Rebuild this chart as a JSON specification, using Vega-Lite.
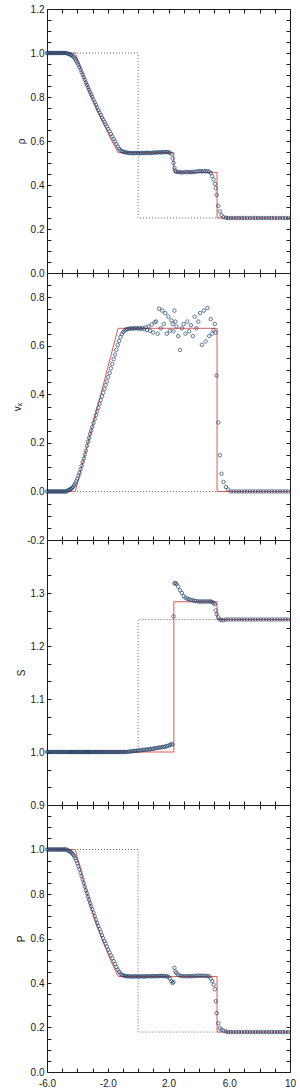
{
  "$schema": "https://vega.github.io/schema/vega-lite/v6.json",
  "background": "white",
  "padding": {"left": 12, "top": 4, "right": 5, "bottom": 5},
  "bounds": "flush",
  "spacing": 0,
  "config": {
    "view": {"stroke": null},
    "axis": {"domainColor": "#1a1a1a", "domainWidth": 1, "tickColor": "#1a1a1a", "tickWidth": 1, "tickSize": -4, "labelPadding": 7, "labelFont": "Liberation Sans", "labelFontSize": 10, "labelColor": "#1a1a1a", "titleFont": "Liberation Sans", "titleFontSize": 10, "titleFontWeight": "normal", "titleColor": "#1a1a1a", "titlePadding": 4, "grid": false, "labelFlush": false, "labelOverlap": false, "labelBound": false}
  },
  "datasets": {
    "init": [
      {"x": -6, "o": 1, "rho": 1, "vx": 0, "S": 1, "P": 1},
      {"x": 0, "o": 2, "rho": 1, "vx": 0, "S": 1, "P": 1},
      {"x": 0, "o": 3, "rho": 0.25, "vx": 0, "S": 1.25, "P": 0.1795},
      {"x": 10, "o": 4, "rho": 0.25, "vx": 0, "S": 1.25, "P": 0.1795}
    ],
    "exact": [
      {"x": -6, "o": 1, "rho": 1, "vx": 0, "S": 1, "P": 1},
      {"x": -4.141, "o": 2, "rho": 1, "vx": 0, "S": 1, "P": 1},
      {"x": -3.6, "o": 3, "rho": 0.8957, "vx": 0.1289, "S": 1, "P": 0.8571},
      {"x": -3.0, "o": 4, "rho": 0.7905, "vx": 0.2717, "S": 1, "P": 0.7196},
      {"x": -2.4, "o": 5, "rho": 0.6954, "vx": 0.4146, "S": 1, "P": 0.6013},
      {"x": -1.8, "o": 6, "rho": 0.6097, "vx": 0.5574, "S": 1, "P": 0.5002},
      {"x": -1.318, "o": 7, "rho": 0.547, "vx": 0.6722, "S": 1, "P": 0.4294},
      {"x": 2.352, "o": 8, "rho": 0.547, "vx": 0.6722, "S": 1, "P": 0.4294},
      {"x": 2.352, "o": 9, "rho": 0.4574, "vx": 0.6722, "S": 1.2835, "P": 0.4294},
      {"x": 5.197, "o": 10, "rho": 0.4574, "vx": 0.6722, "S": 1.2835, "P": 0.4294},
      {"x": 5.197, "o": 11, "rho": 0.25, "vx": 0, "S": 1.25, "P": 0.1795},
      {"x": 10, "o": 12, "rho": 0.25, "vx": 0, "S": 1.25, "P": 0.1795}
    ],
    "cells": [
      {"x": -6.00, "rho": 1, "vx": 0, "S": 1, "P": 1},
      {"x": -5.92, "rho": 1, "vx": 0, "S": 1, "P": 1},
      {"x": -5.84, "rho": 1, "vx": 0, "S": 1, "P": 1},
      {"x": -5.76, "rho": 1, "vx": 0, "S": 1, "P": 1},
      {"x": -5.68, "rho": 1, "vx": 0, "S": 1, "P": 1},
      {"x": -5.60, "rho": 1, "vx": 0, "S": 1, "P": 1},
      {"x": -5.52, "rho": 1, "vx": 0, "S": 1, "P": 1},
      {"x": -5.44, "rho": 1, "vx": 0, "S": 1, "P": 1},
      {"x": -5.36, "rho": 1, "vx": 0, "S": 1, "P": 1},
      {"x": -5.28, "rho": 1, "vx": 0, "S": 1, "P": 1},
      {"x": -5.20, "rho": 1, "vx": 0, "S": 1, "P": 1},
      {"x": -5.12, "rho": 1, "vx": 0, "S": 1, "P": 1},
      {"x": -5.04, "rho": 1, "vx": 0, "S": 1, "P": 1},
      {"x": -4.96, "rho": 1, "vx": 0, "S": 1, "P": 1},
      {"x": -4.88, "rho": 1, "vx": 0, "S": 1, "P": 1},
      {"x": -4.80, "rho": 1, "vx": 0, "S": 1, "P": 1},
      {"x": -4.72, "rho": 1, "vx": 0, "S": 1, "P": 1},
      {"x": -4.64, "rho": 0.997, "vx": 0.004, "S": 1, "P": 0.996},
      {"x": -4.56, "rho": 0.995, "vx": 0.006, "S": 1, "P": 0.994},
      {"x": -4.49, "rho": 0.994, "vx": 0.008, "S": 1, "P": 0.991},
      {"x": -4.42, "rho": 0.991, "vx": 0.011, "S": 1, "P": 0.988},
      {"x": -4.35, "rho": 0.988, "vx": 0.014, "S": 1, "P": 0.983},
      {"x": -4.28, "rho": 0.984, "vx": 0.019, "S": 1, "P": 0.977},
      {"x": -4.21, "rho": 0.979, "vx": 0.026, "S": 1, "P": 0.970},
      {"x": -4.14, "rho": 0.972, "vx": 0.033, "S": 1, "P": 0.961},
      {"x": -4.07, "rho": 0.964, "vx": 0.042, "S": 1, "P": 0.950},
      {"x": -4.00, "rho": 0.956, "vx": 0.053, "S": 1, "P": 0.938},
      {"x": -3.93, "rho": 0.946, "vx": 0.065, "S": 1, "P": 0.925},
      {"x": -3.86, "rho": 0.936, "vx": 0.077, "S": 1, "P": 0.911},
      {"x": -3.79, "rho": 0.925, "vx": 0.091, "S": 1, "P": 0.896},
      {"x": -3.72, "rho": 0.913, "vx": 0.106, "S": 1, "P": 0.881},
      {"x": -3.65, "rho": 0.902, "vx": 0.121, "S": 1, "P": 0.865},
      {"x": -3.58, "rho": 0.890, "vx": 0.136, "S": 1, "P": 0.849},
      {"x": -3.51, "rho": 0.878, "vx": 0.152, "S": 1, "P": 0.833},
      {"x": -3.44, "rho": 0.865, "vx": 0.168, "S": 1, "P": 0.817},
      {"x": -3.37, "rho": 0.855, "vx": 0.188, "S": 1, "P": 0.803},
      {"x": -3.30, "rho": 0.844, "vx": 0.205, "S": 1, "P": 0.788},
      {"x": -3.23, "rho": 0.833, "vx": 0.221, "S": 1, "P": 0.774},
      {"x": -3.16, "rho": 0.822, "vx": 0.237, "S": 1, "P": 0.759},
      {"x": -3.09, "rho": 0.811, "vx": 0.251, "S": 1, "P": 0.745},
      {"x": -3.02, "rho": 0.800, "vx": 0.266, "S": 1, "P": 0.731},
      {"x": -2.94, "rho": 0.788, "vx": 0.282, "S": 1, "P": 0.716},
      {"x": -2.86, "rho": 0.775, "vx": 0.298, "S": 1, "P": 0.700},
      {"x": -2.78, "rho": 0.764, "vx": 0.314, "S": 1, "P": 0.685},
      {"x": -2.70, "rho": 0.752, "vx": 0.330, "S": 1, "P": 0.670},
      {"x": -2.62, "rho": 0.740, "vx": 0.345, "S": 1, "P": 0.656},
      {"x": -2.54, "rho": 0.729, "vx": 0.361, "S": 1, "P": 0.642},
      {"x": -2.46, "rho": 0.718, "vx": 0.376, "S": 1, "P": 0.628},
      {"x": -2.38, "rho": 0.707, "vx": 0.392, "S": 1, "P": 0.615},
      {"x": -2.30, "rho": 0.697, "vx": 0.407, "S": 1, "P": 0.601},
      {"x": -2.22, "rho": 0.687, "vx": 0.422, "S": 1, "P": 0.588},
      {"x": -2.14, "rho": 0.676, "vx": 0.438, "S": 1, "P": 0.577},
      {"x": -2.06, "rho": 0.666, "vx": 0.453, "S": 1, "P": 0.564},
      {"x": -1.97, "rho": 0.655, "vx": 0.471, "S": 1, "P": 0.550},
      {"x": -1.88, "rho": 0.644, "vx": 0.488, "S": 1, "P": 0.537},
      {"x": -1.79, "rho": 0.632, "vx": 0.507, "S": 1, "P": 0.524},
      {"x": -1.70, "rho": 0.621, "vx": 0.525, "S": 1, "P": 0.511},
      {"x": -1.61, "rho": 0.609, "vx": 0.545, "S": 1, "P": 0.498},
      {"x": -1.52, "rho": 0.598, "vx": 0.564, "S": 1, "P": 0.485},
      {"x": -1.43, "rho": 0.586, "vx": 0.584, "S": 1, "P": 0.472},
      {"x": -1.34, "rho": 0.575, "vx": 0.603, "S": 1, "P": 0.460},
      {"x": -1.25, "rho": 0.565, "vx": 0.620, "S": 1, "P": 0.450},
      {"x": -1.16, "rho": 0.558, "vx": 0.636, "S": 1, "P": 0.442},
      {"x": -1.07, "rho": 0.554, "vx": 0.648, "S": 1, "P": 0.437},
      {"x": -0.98, "rho": 0.551, "vx": 0.657, "S": 1, "P": 0.434},
      {"x": -0.89, "rho": 0.549, "vx": 0.663, "S": 1, "P": 0.432},
      {"x": -0.80, "rho": 0.548, "vx": 0.667, "S": 1, "P": 0.431},
      {"x": -0.71, "rho": 0.547, "vx": 0.669, "S": 1.000, "P": 0.430},
      {"x": -0.61, "rho": 0.546, "vx": 0.670, "S": 1.001, "P": 0.430},
      {"x": -0.51, "rho": 0.545, "vx": 0.671, "S": 1.001, "P": 0.430},
      {"x": -0.41, "rho": 0.545, "vx": 0.672, "S": 1.001, "P": 0.429},
      {"x": -0.31, "rho": 0.544, "vx": 0.671, "S": 1.002, "P": 0.429},
      {"x": -0.21, "rho": 0.545, "vx": 0.672, "S": 1.002, "P": 0.430},
      {"x": -0.11, "rho": 0.546, "vx": 0.673, "S": 1.002, "P": 0.430},
      {"x": -0.01, "rho": 0.545, "vx": 0.671, "S": 1.003, "P": 0.429},
      {"x": 0.09, "rho": 0.544, "vx": 0.673, "S": 1.003, "P": 0.429},
      {"x": 0.19, "rho": 0.545, "vx": 0.670, "S": 1.003, "P": 0.430},
      {"x": 0.29, "rho": 0.546, "vx": 0.674, "S": 1.004, "P": 0.430},
      {"x": 0.39, "rho": 0.545, "vx": 0.668, "S": 1.004, "P": 0.429},
      {"x": 0.49, "rho": 0.546, "vx": 0.676, "S": 1.004, "P": 0.430},
      {"x": 0.59, "rho": 0.547, "vx": 0.665, "S": 1.005, "P": 0.430},
      {"x": 0.69, "rho": 0.546, "vx": 0.680, "S": 1.005, "P": 0.431},
      {"x": 0.79, "rho": 0.545, "vx": 0.662, "S": 1.005, "P": 0.430},
      {"x": 0.89, "rho": 0.546, "vx": 0.688, "S": 1.006, "P": 0.430},
      {"x": 0.99, "rho": 0.547, "vx": 0.655, "S": 1.006, "P": 0.431},
      {"x": 1.09, "rho": 0.548, "vx": 0.697, "S": 1.007, "P": 0.431},
      {"x": 1.19, "rho": 0.547, "vx": 0.700, "S": 1.007, "P": 0.430},
      {"x": 1.29, "rho": 0.548, "vx": 0.650, "S": 1.008, "P": 0.431},
      {"x": 1.39, "rho": 0.549, "vx": 0.753, "S": 1.008, "P": 0.431},
      {"x": 1.49, "rho": 0.548, "vx": 0.672, "S": 1.009, "P": 0.432},
      {"x": 1.59, "rho": 0.549, "vx": 0.745, "S": 1.009, "P": 0.431},
      {"x": 1.69, "rho": 0.550, "vx": 0.690, "S": 1.010, "P": 0.432},
      {"x": 1.79, "rho": 0.549, "vx": 0.735, "S": 1.010, "P": 0.431},
      {"x": 1.89, "rho": 0.550, "vx": 0.650, "S": 1.011, "P": 0.430},
      {"x": 1.99, "rho": 0.549, "vx": 0.720, "S": 1.012, "P": 0.428},
      {"x": 2.09, "rho": 0.547, "vx": 0.662, "S": 1.013, "P": 0.420},
      {"x": 2.19, "rho": 0.540, "vx": 0.705, "S": 1.015, "P": 0.408},
      {"x": 2.27, "rho": 0.520, "vx": 0.690, "S": 1.014, "P": 0.400},
      {"x": 2.33, "rho": 0.500, "vx": 0.660, "S": 1.256, "P": 0.405},
      {"x": 2.39, "rho": 0.478, "vx": 0.745, "S": 1.318, "P": 0.468},
      {"x": 2.45, "rho": 0.465, "vx": 0.700, "S": 1.319, "P": 0.452},
      {"x": 2.52, "rho": 0.460, "vx": 0.680, "S": 1.317, "P": 0.445},
      {"x": 2.64, "rho": 0.459, "vx": 0.640, "S": 1.312, "P": 0.437},
      {"x": 2.76, "rho": 0.458, "vx": 0.583, "S": 1.305, "P": 0.433},
      {"x": 2.88, "rho": 0.457, "vx": 0.672, "S": 1.300, "P": 0.431},
      {"x": 3.00, "rho": 0.458, "vx": 0.690, "S": 1.294, "P": 0.430},
      {"x": 3.12, "rho": 0.459, "vx": 0.650, "S": 1.291, "P": 0.431},
      {"x": 3.24, "rho": 0.458, "vx": 0.700, "S": 1.289, "P": 0.430},
      {"x": 3.36, "rho": 0.459, "vx": 0.660, "S": 1.288, "P": 0.431},
      {"x": 3.48, "rho": 0.458, "vx": 0.685, "S": 1.287, "P": 0.430},
      {"x": 3.60, "rho": 0.459, "vx": 0.640, "S": 1.286, "P": 0.431},
      {"x": 3.72, "rho": 0.460, "vx": 0.720, "S": 1.285, "P": 0.432},
      {"x": 3.84, "rho": 0.461, "vx": 0.672, "S": 1.285, "P": 0.431},
      {"x": 3.96, "rho": 0.462, "vx": 0.700, "S": 1.284, "P": 0.433},
      {"x": 4.08, "rho": 0.463, "vx": 0.735, "S": 1.284, "P": 0.432},
      {"x": 4.20, "rho": 0.462, "vx": 0.604, "S": 1.284, "P": 0.433},
      {"x": 4.32, "rho": 0.463, "vx": 0.745, "S": 1.284, "P": 0.432},
      {"x": 4.44, "rho": 0.462, "vx": 0.618, "S": 1.284, "P": 0.432},
      {"x": 4.56, "rho": 0.463, "vx": 0.756, "S": 1.284, "P": 0.431},
      {"x": 4.68, "rho": 0.461, "vx": 0.640, "S": 1.284, "P": 0.430},
      {"x": 4.78, "rho": 0.455, "vx": 0.710, "S": 1.284, "P": 0.420},
      {"x": 4.88, "rho": 0.440, "vx": 0.650, "S": 1.283, "P": 0.408},
      {"x": 4.97, "rho": 0.425, "vx": 0.665, "S": 1.281, "P": 0.392},
      {"x": 5.05, "rho": 0.405, "vx": 0.690, "S": 1.279, "P": 0.372},
      {"x": 5.11, "rho": 0.385, "vx": 0.655, "S": 1.267, "P": 0.318},
      {"x": 5.17, "rho": 0.355, "vx": 0.477, "S": 1.260, "P": 0.264},
      {"x": 5.28, "rho": 0.305, "vx": 0.284, "S": 1.254, "P": 0.219},
      {"x": 5.38, "rho": 0.280, "vx": 0.149, "S": 1.250, "P": 0.197},
      {"x": 5.49, "rho": 0.263, "vx": 0.073, "S": 1.249, "P": 0.191},
      {"x": 5.62, "rho": 0.254, "vx": 0.039, "S": 1.249, "P": 0.186},
      {"x": 5.78, "rho": 0.251, "vx": 0.018, "S": 1.250, "P": 0.182},
      {"x": 5.93, "rho": 0.250, "vx": 0.008, "S": 1.250, "P": 0.180},
      {"x": 6.10, "rho": 0.25, "vx": 0, "S": 1.25, "P": 0.1795},
      {"x": 6.28, "rho": 0.25, "vx": 0, "S": 1.25, "P": 0.1795},
      {"x": 6.46, "rho": 0.25, "vx": 0, "S": 1.25, "P": 0.1795},
      {"x": 6.64, "rho": 0.25, "vx": 0, "S": 1.25, "P": 0.1795},
      {"x": 6.82, "rho": 0.25, "vx": 0, "S": 1.25, "P": 0.1795},
      {"x": 7.00, "rho": 0.25, "vx": 0, "S": 1.25, "P": 0.1795},
      {"x": 7.18, "rho": 0.25, "vx": 0, "S": 1.25, "P": 0.1795},
      {"x": 7.36, "rho": 0.25, "vx": 0, "S": 1.25, "P": 0.1795},
      {"x": 7.54, "rho": 0.25, "vx": 0, "S": 1.25, "P": 0.1795},
      {"x": 7.72, "rho": 0.25, "vx": 0, "S": 1.25, "P": 0.1795},
      {"x": 7.90, "rho": 0.25, "vx": 0, "S": 1.25, "P": 0.1795},
      {"x": 8.08, "rho": 0.25, "vx": 0, "S": 1.25, "P": 0.1795},
      {"x": 8.26, "rho": 0.25, "vx": 0, "S": 1.25, "P": 0.1795},
      {"x": 8.44, "rho": 0.25, "vx": 0, "S": 1.25, "P": 0.1795},
      {"x": 8.62, "rho": 0.25, "vx": 0, "S": 1.25, "P": 0.1795},
      {"x": 8.80, "rho": 0.25, "vx": 0, "S": 1.25, "P": 0.1795},
      {"x": 8.98, "rho": 0.25, "vx": 0, "S": 1.25, "P": 0.1795},
      {"x": 9.16, "rho": 0.25, "vx": 0, "S": 1.25, "P": 0.1795},
      {"x": 9.34, "rho": 0.25, "vx": 0, "S": 1.25, "P": 0.1795},
      {"x": 9.52, "rho": 0.25, "vx": 0, "S": 1.25, "P": 0.1795},
      {"x": 9.70, "rho": 0.25, "vx": 0, "S": 1.25, "P": 0.1795},
      {"x": 9.88, "rho": 0.25, "vx": 0, "S": 1.25, "P": 0.1795}
    ]
  },
  "vconcat": [
    {
      "width": 243, "height": 264,
      "layer": [
        {"data": {"name": "init"}, "mark": {"type": "line", "stroke": "#666666", "strokeWidth": 1, "strokeDash": [1, 2]},
         "encoding": {
           "x": {"field": "x", "type": "quantitative", "scale": {"domain": [-6, 10], "nice": false, "zero": false},
                 "axis": {"orient": "bottom", "values": [-6,-5,-4,-3,-2,-1,0,1,2,3,4,5,6,7,8,9,10], "labels": false, "title": null,
                          "encode": {"ticks": {"y2": {"condition": {"test": "abs(datum.value % 4) == 2", "value": -7}, "value": -4}}}}},
           "y": {"field": "rho", "type": "quantitative", "scale": {"domain": [0, 1.2], "nice": false, "zero": false},
                 "axis": {"orient": "left", "title": "ρ", "values": [0,0.05,0.1,0.15,0.2,0.25,0.3,0.35,0.4,0.45,0.5,0.55,0.6,0.65,0.7,0.75,0.8,0.85,0.9,0.95,1,1.05,1.1,1.15,1.2],
                          "labelExpr": "abs(round(datum.value*20)) % 4 == 0 ? format(datum.value, '.1f') : ''",
                          "encode": {"ticks": {"x2": {"condition": {"test": "abs(round(datum.value*20)) % 4 == 0", "value": 7}, "value": 4}}}}},
           "order": {"field": "o"}}},
        {"data": {"name": "exact"}, "mark": {"type": "line", "stroke": "#dd5a55", "strokeWidth": 1},
         "encoding": {
           "x": {"field": "x", "type": "quantitative", "scale": {"domain": [-6, 10], "nice": false, "zero": false},
                 "axis": {"orient": "top", "values": [-6,-5,-4,-3,-2,-1,0,1,2,3,4,5,6,7,8,9,10], "labels": false, "title": null,
                          "encode": {"ticks": {"y2": {"condition": {"test": "abs(datum.value % 4) == 2", "value": 7}, "value": 4}}}}},
           "y": {"field": "rho", "type": "quantitative", "scale": {"domain": [0, 1.2], "nice": false, "zero": false},
                 "axis": {"orient": "right", "title": null, "labels": false, "values": [0,0.05,0.1,0.15,0.2,0.25,0.3,0.35,0.4,0.45,0.5,0.55,0.6,0.65,0.7,0.75,0.8,0.85,0.9,0.95,1,1.05,1.1,1.15,1.2],
                          "encode": {"ticks": {"x2": {"condition": {"test": "abs(round(datum.value*20)) % 4 == 0", "value": -7}, "value": -4}}}}},
           "order": {"field": "o"}}},
        {"data": {"name": "cells"}, "mark": {"type": "point", "shape": "circle", "filled": false, "size": 12, "stroke": "#1d3d66", "strokeWidth": 1},
         "encoding": {
           "x": {"field": "x", "type": "quantitative", "axis": null},
           "y": {"field": "rho", "type": "quantitative", "axis": null}}}
      ],
      "resolve": {"axis": {"x": "independent", "y": "independent"}}
    },
    {
      "width": 243, "height": 267,
      "layer": [
        {"data": {"name": "init"}, "mark": {"type": "line", "stroke": "#666666", "strokeWidth": 1, "strokeDash": [1, 2]},
         "encoding": {
           "x": {"field": "x", "type": "quantitative", "scale": {"domain": [-6, 10], "nice": false, "zero": false},
                 "axis": {"orient": "bottom", "values": [-6,-5,-4,-3,-2,-1,0,1,2,3,4,5,6,7,8,9,10], "labels": false, "title": null,
                          "encode": {"ticks": {"y2": {"condition": {"test": "abs(datum.value % 4) == 2", "value": -7}, "value": -4}}}}},
           "y": {"field": "vx", "type": "quantitative", "scale": {"domain": [-0.2, 0.9], "nice": false, "zero": false},
                 "axis": {"orient": "left", "title": "vₓ", "values": [-0.2,-0.15,-0.1,-0.05,0,0.05,0.1,0.15,0.2,0.25,0.3,0.35,0.4,0.45,0.5,0.55,0.6,0.65,0.7,0.75,0.8,0.85,0.9],
                          "labelExpr": "abs(round(datum.value*20)) % 4 == 0 ? (datum.value < -0.01 ? '-' + format(-datum.value, '.1f') : format(abs(datum.value), '.1f')) : ''",
                          "encode": {"ticks": {"x2": {"condition": {"test": "abs(round(datum.value*20)) % 4 == 0", "value": 7}, "value": 4}}}}},
           "order": {"field": "o"}}},
        {"data": {"name": "exact"}, "mark": {"type": "line", "stroke": "#dd5a55", "strokeWidth": 1},
         "encoding": {
           "x": {"field": "x", "type": "quantitative", "scale": {"domain": [-6, 10], "nice": false, "zero": false},
                 "axis": {"orient": "top", "values": [-6,-5,-4,-3,-2,-1,0,1,2,3,4,5,6,7,8,9,10], "labels": false, "title": null,
                          "encode": {"ticks": {"y2": {"condition": {"test": "abs(datum.value % 4) == 2", "value": 7}, "value": 4}}}}},
           "y": {"field": "vx", "type": "quantitative", "scale": {"domain": [-0.2, 0.9], "nice": false, "zero": false},
                 "axis": {"orient": "right", "title": null, "labels": false, "values": [-0.2,-0.15,-0.1,-0.05,0,0.05,0.1,0.15,0.2,0.25,0.3,0.35,0.4,0.45,0.5,0.55,0.6,0.65,0.7,0.75,0.8,0.85,0.9],
                          "encode": {"ticks": {"x2": {"condition": {"test": "abs(round(datum.value*20)) % 4 == 0", "value": -7}, "value": -4}}}}},
           "order": {"field": "o"}}},
        {"data": {"name": "cells"}, "mark": {"type": "point", "shape": "circle", "filled": false, "size": 12, "stroke": "#1d3d66", "strokeWidth": 1},
         "encoding": {
           "x": {"field": "x", "type": "quantitative", "axis": null},
           "y": {"field": "vx", "type": "quantitative", "axis": null}}}
      ],
      "resolve": {"axis": {"x": "independent", "y": "independent"}}
    },
    {
      "width": 243, "height": 265,
      "layer": [
        {"data": {"name": "init"}, "mark": {"type": "line", "stroke": "#666666", "strokeWidth": 1, "strokeDash": [1, 2]},
         "encoding": {
           "x": {"field": "x", "type": "quantitative", "scale": {"domain": [-6, 10], "nice": false, "zero": false},
                 "axis": {"orient": "bottom", "values": [-6,-5,-4,-3,-2,-1,0,1,2,3,4,5,6,7,8,9,10], "labels": false, "title": null,
                          "encode": {"ticks": {"y2": {"condition": {"test": "abs(datum.value % 4) == 2", "value": -7}, "value": -4}}}}},
           "y": {"field": "S", "type": "quantitative", "scale": {"domain": [0.9, 1.4], "nice": false, "zero": false},
                 "axis": {"orient": "left", "title": "S", "values": [0.9,0.93333,0.96667,1.0,1.03333,1.06667,1.1,1.13333,1.16667,1.2,1.23333,1.26667,1.3,1.33333,1.36667,1.4],
                          "labelExpr": "abs(round(datum.value*30)) % 3 == 0 && datum.value < 1.35 ? format(datum.value, '.1f') : ''",
                          "encode": {"ticks": {"x2": {"condition": {"test": "abs(round(datum.value*30)) % 3 == 0", "value": 7}, "value": 4}}}}},
           "order": {"field": "o"}}},
        {"data": {"name": "exact"}, "mark": {"type": "line", "stroke": "#dd5a55", "strokeWidth": 1},
         "encoding": {
           "x": {"field": "x", "type": "quantitative", "scale": {"domain": [-6, 10], "nice": false, "zero": false},
                 "axis": {"orient": "top", "values": [-6,-5,-4,-3,-2,-1,0,1,2,3,4,5,6,7,8,9,10], "labels": false, "title": null,
                          "encode": {"ticks": {"y2": {"condition": {"test": "abs(datum.value % 4) == 2", "value": 7}, "value": 4}}}}},
           "y": {"field": "S", "type": "quantitative", "scale": {"domain": [0.9, 1.4], "nice": false, "zero": false},
                 "axis": {"orient": "right", "title": null, "labels": false, "values": [0.9,0.93333,0.96667,1.0,1.03333,1.06667,1.1,1.13333,1.16667,1.2,1.23333,1.26667,1.3,1.33333,1.36667,1.4],
                          "encode": {"ticks": {"x2": {"condition": {"test": "abs(round(datum.value*30)) % 3 == 0", "value": -7}, "value": -4}}}}},
           "order": {"field": "o"}}},
        {"data": {"name": "cells"}, "mark": {"type": "point", "shape": "circle", "filled": false, "size": 12, "stroke": "#1d3d66", "strokeWidth": 1},
         "encoding": {
           "x": {"field": "x", "type": "quantitative", "axis": null},
           "y": {"field": "S", "type": "quantitative", "axis": null}}}
      ],
      "resolve": {"axis": {"x": "independent", "y": "independent"}}
    },
    {
      "width": 243, "height": 267,
      "layer": [
        {"data": {"name": "init"}, "mark": {"type": "line", "stroke": "#666666", "strokeWidth": 1, "strokeDash": [1, 2]},
         "encoding": {
           "x": {"field": "x", "type": "quantitative", "scale": {"domain": [-6, 10], "nice": false, "zero": false},
                 "axis": {"orient": "bottom", "values": [-6,-5,-4,-3,-2,-1,0,1,2,3,4,5,6,7,8,9,10], "title": null, "labelPadding": 10,
                          "labelExpr": "abs(datum.value % 4) == 2 ? (datum.value == 10 ? '10' : (datum.value < 0 ? '-' + format(-datum.value, '.1f') : format(datum.value, '.1f'))) : ''",
                          "encode": {"ticks": {"y2": {"condition": {"test": "abs(datum.value % 4) == 2", "value": -7}, "value": -4}}}}},
           "y": {"field": "P", "type": "quantitative", "scale": {"domain": [0, 1.2], "nice": false, "zero": false},
                 "axis": {"orient": "left", "title": "P", "values": [0,0.05,0.1,0.15,0.2,0.25,0.3,0.35,0.4,0.45,0.5,0.55,0.6,0.65,0.7,0.75,0.8,0.85,0.9,0.95,1,1.05,1.1,1.15,1.2],
                          "labelExpr": "abs(round(datum.value*20)) % 4 == 0 && datum.value < 1.1 ? format(datum.value, '.1f') : ''",
                          "encode": {"ticks": {"x2": {"condition": {"test": "abs(round(datum.value*20)) % 4 == 0", "value": 7}, "value": 4}}}}},
           "order": {"field": "o"}}},
        {"data": {"name": "exact"}, "mark": {"type": "line", "stroke": "#dd5a55", "strokeWidth": 1},
         "encoding": {
           "x": {"field": "x", "type": "quantitative", "scale": {"domain": [-6, 10], "nice": false, "zero": false},
                 "axis": {"orient": "top", "values": [-6,-5,-4,-3,-2,-1,0,1,2,3,4,5,6,7,8,9,10], "labels": false, "title": null,
                          "encode": {"ticks": {"y2": {"condition": {"test": "abs(datum.value % 4) == 2", "value": 7}, "value": 4}}}}},
           "y": {"field": "P", "type": "quantitative", "scale": {"domain": [0, 1.2], "nice": false, "zero": false},
                 "axis": {"orient": "right", "title": null, "labels": false, "values": [0,0.05,0.1,0.15,0.2,0.25,0.3,0.35,0.4,0.45,0.5,0.55,0.6,0.65,0.7,0.75,0.8,0.85,0.9,0.95,1,1.05,1.1,1.15,1.2],
                          "encode": {"ticks": {"x2": {"condition": {"test": "abs(round(datum.value*20)) % 4 == 0", "value": -7}, "value": -4}}}}},
           "order": {"field": "o"}}},
        {"data": {"name": "cells"}, "mark": {"type": "point", "shape": "circle", "filled": false, "size": 12, "stroke": "#1d3d66", "strokeWidth": 1},
         "encoding": {
           "x": {"field": "x", "type": "quantitative", "axis": null},
           "y": {"field": "P", "type": "quantitative", "axis": null}}}
      ],
      "resolve": {"axis": {"x": "independent", "y": "independent"}}
    }
  ]
}
